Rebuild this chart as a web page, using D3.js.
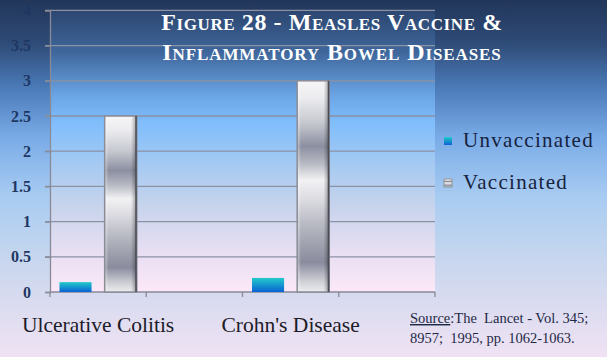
<!DOCTYPE html>
<html><head><meta charset="utf-8">
<script src="https://cdn.jsdelivr.net/npm/d3@7"></script>
<style>html,body{margin:0;padding:0;overflow:hidden;background:#fff}svg{display:block}
.serif{font-family:"Liberation Serif","Times New Roman","DejaVu Serif",serif}
.pre{white-space:pre}</style>
</head><body>
<script>
// ---- data ----
const categories = ["Ulcerative Colitis", "Crohn's Disease"];
const slots = ["Ulcerative Colitis", "empty1", "Crohn's Disease", "empty2"];
const seriesNames = ["Unvaccinated", "Vaccinated"];
const unvaccinated = [0.14, 0.2];
const vaccinated = [2.5, 3.0];
const yTicks = [0, 0.5, 1, 1.5, 2, 2.5, 3, 3.5, 4];
const titleLines = ["Figure 28 - Measles Vaccine &", "Inflammatory Bowel Diseases"];
const sourceLines = ["The\u00a0 Lancet - Vol. 345;", "8957;\u00a0 1995, pp. 1062-1063."];

const W = 607, H = 357;
const m = {left: 50, right: 172, top: 10.4, bottom: 65};
const svg = d3.select("body").append("svg").attr("width", W).attr("height", H);
const defs = svg.append("defs");

function grad(id, stops, vertical = true) {
  const g = defs.append("linearGradient").attr("id", id)
    .attr("x1", 0).attr("y1", 0).attr("x2", vertical ? 0 : 1).attr("y2", vertical ? 1 : 0);
  stops.forEach(([o, c, op]) => g.append("stop").attr("offset", o).attr("stop-color", c).attr("stop-opacity", op == null ? 1 : op));
}
grad("bgOuter", [[0, "#22365a"], [0.12, "#2e4b77"], [0.25, "#4c7cba"], [0.38, "#78aae6"], [0.55, "#a8ccf2"], [0.72, "#c6d6ee"], [0.86, "#dcdcf0"], [1, "#f0e2f4"]]);
grad("bgPlot", [[0, "#2c4670"], [0.15, "#3f679c"], [0.3, "#6aa4e4"], [0.4, "#80befc"], [0.55, "#a6caf2"], [0.7, "#c8d4ec"], [0.85, "#e6def2"], [1, "#fce8f8"]]);
grad("gUnvac", [[0, "#22caca"], [1, "#0a62d4"]]);
grad("gVac", [[0, "#f6f6f8"], [0.08, "#ececef"], [0.2, "#c6c8d0"], [0.31, "#8c8fa0"], [0.39, "#b6b8c2"], [0.47, "#f2f2f4"], [0.56, "#dcdce2"], [0.7, "#b2b4be"], [0.86, "#8a8c9e"], [0.95, "#cfd0d6"], [1, "#ececef"]]);
grad("gVacH", [[0, "#ffffff", 0.45], [0.12, "#ffffff", 0], [0.82, "#000000", 0], [1, "#000000", 0.35]], false);

svg.append("rect").attr("width", W).attr("height", H).attr("fill", "url(#bgOuter)");

const x = d3.scaleBand().domain(slots).range([m.left, W - m.right]);
const xs = d3.scaleBand().domain(seriesNames).range([0, x.bandwidth()]).paddingInner(0.29).paddingOuter(0.21);
const y = d3.scaleLinear().domain([0, 4]).range([H - m.bottom, m.top]);

// plot area
svg.append("rect").attr("x", x.range()[0]).attr("y", y(4)).attr("width", x.range()[1] - x.range()[0])
  .attr("height", y(0) - y(4)).attr("fill", "url(#bgPlot)");

// grid
svg.append("g").selectAll("line").data(yTicks.filter(d => d > 0)).join("line")
  .attr("x1", x.range()[0] - 5).attr("x2", x.range()[1]).attr("y1", d => y(d)).attr("y2", d => y(d))
  .attr("stroke", "#8b92a4").attr("stroke-width", 1.3);

// y axis
const yAxis = svg.append("g").attr("transform", `translate(${x.range()[0]},0)`)
  .call(d3.axisLeft(y).tickValues(yTicks).tickSize(5).tickPadding(14).tickFormat(d3.format("")));
yAxis.attr("font-family", null).attr("font-size", null);
yAxis.select(".domain").attr("stroke", "#8a8a96").attr("stroke-width", 1.3);
yAxis.selectAll(".tick line").attr("stroke", "#8a8a96").attr("stroke-width", 1.3);
yAxis.selectAll(".tick text").attr("class", "serif").attr("fill", "#1f3763")
  .attr("font-weight", "bold").attr("font-size", 16);

// x axis
const xAxis = svg.append("g").attr("transform", `translate(0,${y(0)})`);
xAxis.append("line").attr("x1", x.range()[0]).attr("x2", x.range()[1]).attr("stroke", "#8a8a96").attr("stroke-width", 1.3);
const bounds = slots.map(s => x(s)).concat([x.range()[1]]);
xAxis.selectAll("line.tk").data(bounds).join("line").attr("class", "tk")
  .attr("x1", d => d).attr("x2", d => d).attr("y1", 0).attr("y2", 5).attr("stroke", "#8a8a96").attr("stroke-width", 1.3);
xAxis.selectAll("text").data(categories).join("text").attr("class", "serif")
  .attr("x", d => x(d) + x.bandwidth() / 2).attr("y", 40).attr("text-anchor", "middle")
  .attr("font-size", 21.5).attr("fill", "#1c1c28").text(d => d);

// bars
const rows = categories.map((c, i) => ({cat: c, vals: [unvaccinated[i], vaccinated[i]]}));
const bars = svg.append("g");
rows.forEach(r => {
  r.vals.forEach((v, j) => {
    const s = seriesNames[j];
    const bx = x(r.cat) + xs(s), bw = xs.bandwidth(), by = y(v), bh = y(0) - y(v);
    if (j === 0) {
      bars.append("rect").attr("x", bx).attr("y", by).attr("width", bw).attr("height", bh).attr("fill", "url(#gUnvac)");
    } else {
      bars.append("rect").attr("x", bx).attr("y", by).attr("width", bw).attr("height", bh).attr("fill", "url(#gVac)");
      bars.append("rect").attr("x", bx).attr("y", by).attr("width", bw).attr("height", bh).attr("fill", "url(#gVacH)")
        .attr("stroke", "#8a8c96").attr("stroke-width", 1.5);
      bars.append("line").attr("x1", bx + bw - 0.75).attr("x2", bx + bw - 0.75).attr("y1", by).attr("y2", by + bh)
        .attr("stroke", "#4a4c56").attr("stroke-width", 1.5);
    }
  });
});

// legend
const lg = svg.append("g");
const legendFills = ["url(#gUnvac)", "url(#gVac)"];
seriesNames.forEach((s, i) => {
  const ly = 147 + i * 42;
  lg.append("rect").attr("x", 444).attr("y", ly - 10).attr("width", 8).attr("height", 8).attr("fill", legendFills[i])
    .attr("stroke", i ? "#888" : "none").attr("stroke-width", 0.8);
  lg.append("text").attr("class", "serif").attr("x", 463).attr("y", ly).attr("font-size", 21)
    .attr("letter-spacing", 1.3).attr("fill", "#17223d").text(s);
});

// title
svg.append("g").selectAll("text").data(titleLines).join("text").attr("class", "serif")
  .attr("x", 332).attr("y", (d, i) => 30 + i * 30).attr("text-anchor", "middle")
  .attr("font-weight", "bold").attr("font-size", 24).attr("letter-spacing", (d, i) => i ? 0.9 : 0.6)
  .style("font-variant", "small-caps").attr("fill", "#ffffff").text(d => d);

// source
const src = svg.append("g").attr("class", "serif").attr("font-size", 14.5).attr("fill", "#1e2a46");
const t1 = src.append("text").attr("class", "serif pre").attr("x", 410).attr("y", 323);
t1.append("tspan").attr("text-decoration", "underline").text("Source");
t1.append("tspan").text(":" + sourceLines[0]);
src.append("text").attr("class", "serif pre").attr("x", 410).attr("y", 343).text(sourceLines[1]);
</script>
</body></html>
